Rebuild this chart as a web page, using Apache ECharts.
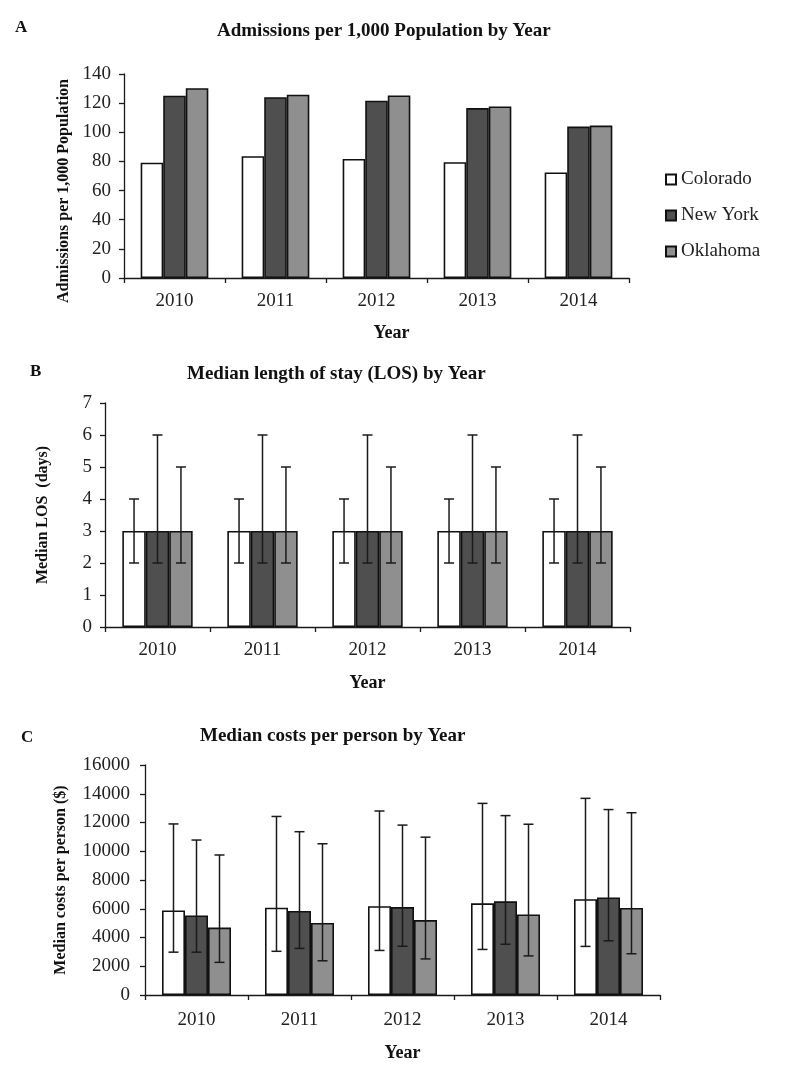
<!DOCTYPE html>
<html>
<head>
<meta charset="utf-8">
<script src="https://cdn.jsdelivr.net/npm/echarts@6/dist/echarts.min.js"></script>
<style>
  html, body { margin: 0; padding: 0; background: #ffffff; }
  #chart { width: 789px; height: 1091px; }
</style>
</head>
<body>
<div id="chart"></div>
<script>
// ---------- data ----------
const years = ['2010', '2011', '2012', '2013', '2014'];
const stateNames = ['Colorado', 'New York', 'Oklahoma'];

// Panel A: admissions per 1,000 population
const admColorado = [79.1, 83.6, 81.7, 79.5, 72.4];
const admNewYork  = [125.1, 124.1, 121.7, 116.6, 103.9];
const admOklahoma = [130.3, 125.8, 125.3, 117.7, 104.6];

// Panel B: median LOS (days) with lower/upper bounds
const losColorado = [3, 3, 3, 3, 3];
const losNewYork  = [3, 3, 3, 3, 3];
const losOklahoma = [3, 3, 3, 3, 3];
const losColoradoLow  = [2, 2, 2, 2, 2];
const losColoradoHigh = [4, 4, 4, 4, 4];
const losNewYorkLow   = [2, 2, 2, 2, 2];
const losNewYorkHigh  = [6, 6, 6, 6, 6];
const losOklahomaLow  = [2, 2, 2, 2, 2];
const losOklahomaHigh = [5, 5, 5, 5, 5];

// Panel C: median costs per person ($) with lower/upper bounds
const costColorado = [5880, 6070, 6180, 6380, 6660];
const costNewYork  = [5530, 5850, 6120, 6520, 6790];
const costOklahoma = [4690, 5010, 5210, 5600, 6060];
const costColoradoLow  = [2980, 3040, 3100, 3170, 3380];
const costColoradoHigh = [11900, 12420, 12800, 13330, 13680];
const costNewYorkLow   = [2980, 3240, 3390, 3530, 3770];
const costNewYorkHigh  = [10780, 11360, 11820, 12480, 12900];
const costOklahomaLow  = [2270, 2380, 2510, 2720, 2870];
const costOklahomaHigh = [9740, 10520, 10980, 11880, 12680];

// Axis tick settings
const admAxis  = { min: 0, max: 140, interval: 20 };
const losAxis  = { min: 0, max: 7, interval: 1 };
const costAxis = { min: 0, max: 16000, interval: 2000 };

// ---------- styling ----------
const FONT = 'Liberation Serif';
const barColors = ['#ffffff', '#4f4f4f', '#8f8f8f'];
const INK = '#1a1a1a';
const CAT_GAP = 0.33;

function barSeries(name, data, idx, gridIdx) {
  return {
    type: 'bar', name: name, data: data,
    xAxisIndex: gridIdx, yAxisIndex: gridIdx,
    barGap: '0%', barCategoryGap: (CAT_GAP * 100) + '%',
    itemStyle: { color: barColors[idx], borderColor: '#111', borderWidth: 1.6 },
    emphasis: { disabled: true },
    z: 2
  };
}

function errSeries(name, idx, gridIdx, low, high) {
  return {
    type: 'custom', name: name,
    xAxisIndex: gridIdx, yAxisIndex: gridIdx,
    data: low.map((l, i) => [i, l, high[i]]),
    encode: { x: 0, y: [1, 2] },
    z: 5, silent: true,
    renderItem: function (params, api) {
      const c = api.value(0);
      const lo = api.coord([c, api.value(1)]);
      const hi = api.coord([c, api.value(2)]);
      const band = api.size([1, 0])[0];
      const bw = band * (1 - CAT_GAP) / 3;
      const x = lo[0] + (idx - 1) * bw;
      const cap = 5;
      const st = { stroke: INK, lineWidth: 1.5 };
      return {
        type: 'group',
        children: [
          { type: 'line', shape: { x1: x, y1: lo[1], x2: x, y2: hi[1] }, style: st },
          { type: 'line', shape: { x1: x - cap, y1: hi[1], x2: x + cap, y2: hi[1] }, style: st },
          { type: 'line', shape: { x1: x - cap, y1: lo[1], x2: x + cap, y2: lo[1] }, style: st }
        ]
      };
    }
  };
}

function xAx(gridIdx, nameGap, namePad, labelMargin) {
  return {
    type: 'category', gridIndex: gridIdx, data: years,
    name: 'Year', nameLocation: 'middle', nameGap: nameGap,
    nameTextStyle: { fontFamily: FONT, fontWeight: 'bold', fontSize: 18, color: '#111', padding: namePad },
    axisLine: { show: true, lineStyle: { color: INK, width: 1.3 } },
    axisTick: { show: true, inside: false, length: 5, alignWithLabel: false, lineStyle: { color: INK, width: 1.3 } },
    axisLabel: { fontFamily: FONT, fontSize: 19, color: '#222', margin: labelMargin },
    splitLine: { show: false }
  };
}

function yAx(gridIdx, name, ax, nameGap, namePad, labelMargin) {
  return {
    type: 'value', gridIndex: gridIdx,
    min: ax.min, max: ax.max, interval: ax.interval,
    name: name, nameLocation: 'middle', nameGap: nameGap,
    nameTextStyle: { fontFamily: FONT, fontWeight: 'bold', fontSize: 16, color: '#111', padding: namePad },
    axisLine: { show: true, lineStyle: { color: INK, width: 1.3 } },
    axisTick: { show: true, inside: false, length: 5, lineStyle: { color: INK, width: 1.3 } },
    axisLabel: { fontFamily: FONT, fontSize: 19, color: '#222', margin: labelMargin,
                 formatter: function (v) { return String(v); } },
    splitLine: { show: false }
  };
}

function panelTitle(text, left, top) {
  return {
    text: text, left: left, top: top, padding: 0,
    textStyle: { fontFamily: FONT, fontWeight: 'bold', fontSize: 19, color: '#111' }
  };
}
function panelLetter(text, left, top) {
  return {
    text: text, left: left, top: top, padding: 0,
    textStyle: { fontFamily: FONT, fontWeight: 'bold', fontSize: 17, color: '#111' }
  };
}

const chart = echarts.init(document.getElementById('chart'), null, { renderer: 'canvas' });

const option = {
  backgroundColor: '#ffffff',
  animation: false,
  title: [
    panelLetter('A', 15, 19),
    panelTitle('Admissions per 1,000 Population by Year', 217, 22),
    panelLetter('B', 30, 363),
    panelTitle('Median length of stay (LOS) by Year', 187, 365),
    panelLetter('C', 21, 729),
    panelTitle('Median costs per person by Year', 200, 727)
  ],
  legend: {
    data: stateNames,
    orient: 'vertical',
    left: 665, top: 169,
    padding: 0,
    itemWidth: 10, itemHeight: 10, itemGap: 15,
    icon: 'rect',
    textStyle: { fontFamily: FONT, fontSize: 19, color: '#222', lineHeight: 21 },
    selectedMode: false
  },
  grid: [
    { left: 124, top: 74, width: 505, height: 204 },
    { left: 105, top: 403, width: 525, height: 224 },
    { left: 145, top: 765, width: 515, height: 230 }
  ],
  xAxis: [
    xAx(0, 46, [0, 0, 0, 30], 14),
    xAx(1, 47, 0, 14),
    xAx(2, 49, 0, 16)
  ],
  yAxis: [
    yAx(0, 'Admissions per 1,000 Population', admAxis, 51, [0, 30, 0, 0], 13),
    yAx(1, 'Median LOS  (days)', losAxis, 54, 0, 13),
    yAx(2, 'Median costs per person ($)', costAxis, 76, 0, 15)
  ],
  series: [
    barSeries(stateNames[0], admColorado, 0, 0),
    barSeries(stateNames[1], admNewYork, 1, 0),
    barSeries(stateNames[2], admOklahoma, 2, 0),

    barSeries(stateNames[0], losColorado, 0, 1),
    barSeries(stateNames[1], losNewYork, 1, 1),
    barSeries(stateNames[2], losOklahoma, 2, 1),
    errSeries('LOS range Colorado', 0, 1, losColoradoLow, losColoradoHigh),
    errSeries('LOS range New York', 1, 1, losNewYorkLow, losNewYorkHigh),
    errSeries('LOS range Oklahoma', 2, 1, losOklahomaLow, losOklahomaHigh),

    barSeries(stateNames[0], costColorado, 0, 2),
    barSeries(stateNames[1], costNewYork, 1, 2),
    barSeries(stateNames[2], costOklahoma, 2, 2),
    errSeries('Cost range Colorado', 0, 2, costColoradoLow, costColoradoHigh),
    errSeries('Cost range New York', 1, 2, costNewYorkLow, costNewYorkHigh),
    errSeries('Cost range Oklahoma', 2, 2, costOklahomaLow, costOklahomaHigh)
  ]
};

chart.setOption(option);
</script>
</body>
</html>
